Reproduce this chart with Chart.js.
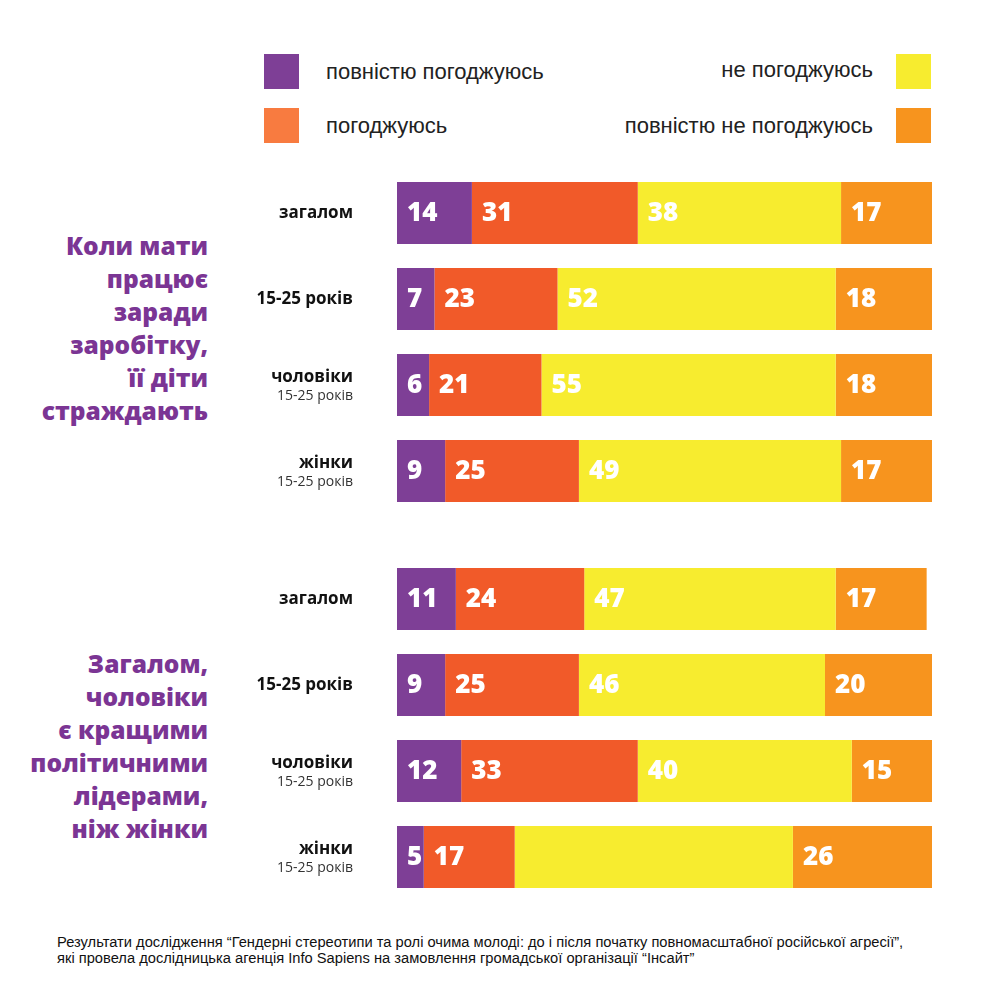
<!DOCTYPE html>
<html>
<head>
<meta charset="utf-8">
<script src="https://cdn.jsdelivr.net/npm/chart.js@4/dist/chart.umd.min.js"></script>
<style>
    body { margin: 0; width: 1000px; height: 1000px; background: #fff; position: relative; overflow: hidden; font-family: "Open Sans", sans-serif; }
    .chart-box { position: absolute; left: 0; width: 1000px; height: 344px; }
    .legend-sq { position: absolute; width: 35px; height: 35px; }
    .legend-txt { position: absolute; font-family: "Liberation Sans", Arial, sans-serif; font-size: 22px; color: #222; line-height: 24px; }
    .title { position: absolute; right: 792px; text-align: right; color: #7B3594; font-weight: 800; font-size: 24.5px; line-height: 33px; }
    .note { position: absolute; left: 57px; top: 934px; font-family: "Liberation Sans Narrow", "Liberation Sans", Arial, sans-serif; font-size: 14.7px; line-height: 16px; color: #111; }
</style>
</head>
<body>

<div class="legend-sq" style="left:264px;top:54px;background:#7E3F96"></div>
<div class="legend-txt" style="left:326px;top:60px">повністю погоджуюсь</div>
<div class="legend-sq" style="left:264px;top:108px;background:#F87B40"></div>
<div class="legend-txt" style="left:326px;top:114px">погоджуюсь</div>
<div class="legend-txt" style="right:127px;top:58px;text-align:right">не погоджуюсь</div>
<div class="legend-sq" style="left:896px;top:54px;background:#F7EC2F"></div>
<div class="legend-txt" style="right:127px;top:114px;text-align:right">повністю не погоджуюсь</div>
<div class="legend-sq" style="left:896px;top:108px;background:#F7941E"></div>

<div class="title" style="top:229px">Коли мати<br>працює<br>заради<br>заробітку,<br>її діти<br>страждають</div>
<div class="title" style="top:647px">Загалом,<br>чоловіки<br>є кращими<br>політичними<br>лідерами,<br>ніж жінки</div>

<div class="chart-box" style="top:170px"><canvas id="chart1"></canvas></div>
<div class="chart-box" style="top:556px"><canvas id="chart2"></canvas></div>

<div class="note">Результати дослідження “Гендерні стереотипи та ролі очима молоді: до і після початку повномасштабної російської агресії”,<br>які провела дослідницька агенція Info Sapiens на замовлення громадської організації “Інсайт”</div>

<script>
// rows: [bold label, small second line]
const rowLabels = [
    ["загалом", ""],
    ["15-25 років", ""],
    ["чоловіки", "15-25 років"],
    ["жінки", "15-25 років"]
];

const seriesNames = ["повністю погоджуюсь", "погоджуюсь", "не погоджуюсь", "повністю не погоджуюсь"];
const seriesColors = ["#7E3F96", "#F15A29", "#F7EC2F", "#F7941E"];

// question 1: mother works for money, children suffer
const q1FullyAgree = [14, 7, 6, 9];
const q1Agree = [31, 23, 21, 25];
const q1Disagree = [38, 52, 55, 49];
const q1FullyDisagree = [17, 18, 18, 17];

// question 2: men are better political leaders
const q2FullyAgree = [11, 9, 12, 5];
const q2Agree = [24, 25, 33, 17];
const q2Disagree = [47, 46, 40, 52];
const q2FullyDisagree = [17, 20, 15, 26];

// values with no printed number in the picture: [dataset, row]
const q1Unlabeled = [];
const q2Unlabeled = [[2, 3]];

const labelFont = '"Open Sans", sans-serif';

const rowLabelPlugin = {
    id: 'rowLabels',
    afterDraw(chart) {
        const ctx = chart.ctx;
        const yScale = chart.scales.y;
        ctx.save();
        ctx.fillStyle = '#111';
        ctx.textAlign = 'right';
        ctx.textBaseline = 'middle';
        rowLabels.forEach((lab, i) => {
            const y = yScale.getPixelForValue(i);
            if (lab[1]) {
                ctx.font = '700 17px ' + labelFont;
                ctx.fillText(lab[0], 353, y - 8);
                ctx.font = '400 14px ' + labelFont;
                ctx.fillStyle = '#333';
                ctx.fillText(lab[1], 353, y + 11);
                ctx.fillStyle = '#111';
            } else {
                ctx.font = '700 17px ' + labelFont;
                ctx.fillText(lab[0], 353, y);
            }
        });
        ctx.restore();
    }
};

const valueLabelPlugin = {
    id: 'valueLabels',
    afterDatasetsDraw(chart, args, opts) {
        const ctx = chart.ctx;
        ctx.save();
        ctx.fillStyle = '#fff';
        ctx.font = '800 26px ' + labelFont;
        ctx.textAlign = 'left';
        ctx.textBaseline = 'middle';
        chart.data.datasets.forEach((ds, di) => {
            const meta = chart.getDatasetMeta(di);
            meta.data.forEach((bar, i) => {
                if (opts.skip.some(s => s[0] === di && s[1] === i)) return;
                const left = Math.min(bar.x, bar.base);
                ctx.fillText(ds.data[i], left + 10, bar.y + 1);
            });
        });
        ctx.restore();
    }
};

function makeChart(id, values, skip) {
    new Chart(document.getElementById(id), {
        type: 'bar',
        data: {
            labels: rowLabels.map(l => l[0]),
            datasets: values.map((v, i) => ({
                label: seriesNames[i],
                data: v,
                backgroundColor: seriesColors[i],
                borderWidth: 0,
                barPercentage: 1,
                categoryPercentage: 0.72
            }))
        },
        options: {
            indexAxis: 'y',
            responsive: true,
            maintainAspectRatio: false,
            animation: false,
            layout: { padding: { left: 397, right: 68, top: 0, bottom: 0 } },
            scales: {
                x: { stacked: true, min: 0, max: 100, display: false },
                y: { stacked: true, display: false }
            },
            plugins: {
                legend: { display: false },
                tooltip: { enabled: false },
                valueLabels: { skip: skip }
            }
        },
        plugins: [rowLabelPlugin, valueLabelPlugin]
    });
}

makeChart('chart1', [q1FullyAgree, q1Agree, q1Disagree, q1FullyDisagree], q1Unlabeled);
makeChart('chart2', [q2FullyAgree, q2Agree, q2Disagree, q2FullyDisagree], q2Unlabeled);
</script>
</body>
</html>
